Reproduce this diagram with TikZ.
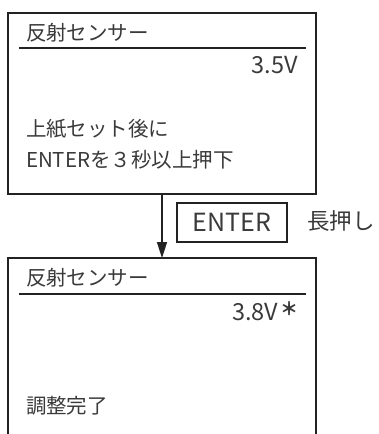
\documentclass[tikz,border=0pt]{standalone}
\usepackage{fontspec}
\setmainfont{Noto Sans CJK JP}
\usetikzlibrary{arrows.meta}
\definecolor{txt}{HTML}{3A3A3A}
\definecolor{ln}{HTML}{222222}
\tikzset{
  jp/.style={inner sep=0pt, outer sep=0pt, text=txt, font=\fontsize{20.5}{20.5}\selectfont},
  volt/.style={jp, font=\fontsize{23.5}{23.5}\selectfont},
  panel/.style={draw=ln, line width=2.2pt, inner sep=0pt, outer sep=0pt},
  rule/.style={draw=ln, line width=2pt},
  keybox/.style={draw=ln, line width=2pt, inner sep=0pt, minimum width=110pt, minimum height=39pt, text=txt, font=\fontsize{25}{25}\selectfont},
  flow/.style={draw=ln, line width=1.6pt, -{Triangle[length=16pt,width=10pt]}}
}
\begin{document}
\begin{tikzpicture}[x=1pt,y=-1pt]
\useasboundingbox (0,0) rectangle (378,434);
% top panel
\node[panel, minimum width=308pt, minimum height=181pt] (topbox) at (162,103.5) {};
\node[jp, anchor=west] (t1) at (26,33) {反射センサー};
\coordinate (u1a) at (19,48);
\coordinate (u1b) at (306,48);
\draw[rule] (u1a) -- (u1b);
\node[volt, anchor=east] (v1) at (298,65.5) {3.5V};
\node[jp, anchor=west] (l1) at (26,129) {上紙セット後に};
\node[jp, anchor=west] (l2) at (26,160) {ENTERを３秒以上押下};
% key
\node[keybox] (key) at (232,222.5) {ENTER};
\node[jp, anchor=west, font=\fontsize{22.5}{22.5}\selectfont] (long) at (307,221) {長押し};
% bottom panel (open at the bottom edge)
\coordinate (bl) at (8,440);
\coordinate (btl) at (8,258);
\coordinate (bottop) at (162,258);
\coordinate (btr) at (316,258);
\coordinate (br) at (316,440);
\draw[panel] (bl) -- (btl) -- (btr) -- (br);
\draw[flow] (topbox.south) -- (bottop);
\node[jp, anchor=west] (t2) at (26,278) {反射センサー};
\coordinate (u2a) at (19,294);
\coordinate (u2b) at (306,294);
\draw[rule] (u2a) -- (u2b);
\node[volt, anchor=east] (v2) at (278.5,312) {3.8V};
\node[jp, font=\fontsize{18}{18}\selectfont\bfseries] (star) at (289.5,308.5) {＊};
\node[jp, anchor=west] (done) at (26,406) {調整完了};
\end{tikzpicture}
\end{document}
